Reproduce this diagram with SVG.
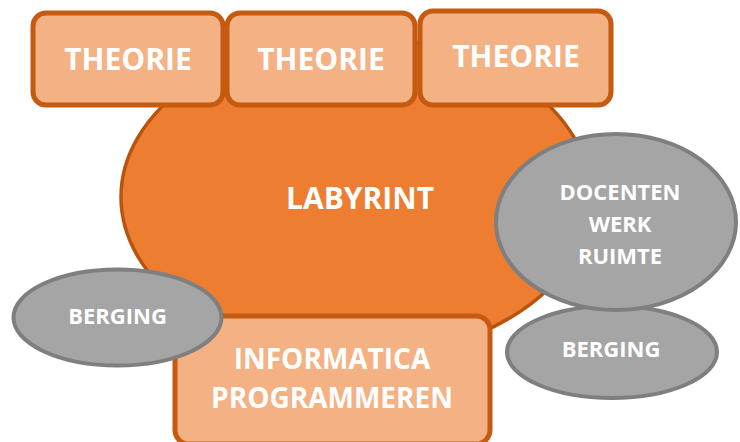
<svg xmlns="http://www.w3.org/2000/svg" width="740" height="442" viewBox="0 0 740 442">
<style>
.room{fill:#F4B183;stroke:#C55A11;stroke-width:5}
.lab{fill:#ED7D31;stroke:#B85410;stroke-width:3.5}
.gray{fill:#A5A5A5;stroke:#7F7F7F;stroke-width:4}
text{font-family:"Open Sans","Liberation Sans",sans-serif;font-weight:bold;fill:#FFFFFF;text-anchor:middle}
.big{font-size:30px}
.mid{font-size:28px}
.sm{font-size:22px}
</style>
<rect width="740" height="442" fill="#FFFFFF"/>
<g id="labyrint">
<ellipse class="lab" cx="356" cy="197" rx="235" ry="160"/>
<text class="big" x="360" y="209">LABYRINT</text>
</g>
<g id="theorie1">
<rect class="room" x="33" y="13" width="190" height="92" rx="13"/>
<text class="big" x="128" y="70">THEORIE</text>
</g>
<g id="theorie2">
<rect class="room" x="227" y="13" width="188" height="92" rx="13"/>
<text class="big" x="321" y="70">THEORIE</text>
</g>
<g id="theorie3">
<rect class="room" x="420" y="11" width="191" height="94" rx="13"/>
<text class="big" x="516" y="67">THEORIE</text>
</g>
<g id="informatica">
<rect class="room" x="175" y="316" width="315" height="128" rx="14"/>
<text class="mid" x="332" y="369">INFORMATICA</text>
<text class="mid" x="332" y="408">PROGRAMMEREN</text>
</g>
<g id="berging-links">
<ellipse class="gray" cx="117.5" cy="317.5" rx="104" ry="48"/>
<text class="sm" x="117.5" y="324">BERGING</text>
</g>
<g id="berging-rechts">
<ellipse class="gray" cx="612" cy="352" rx="105" ry="46"/>
<text class="sm" x="611" y="357">BERGING</text>
</g>
<g id="docenten">
<ellipse class="gray" cx="616" cy="222" rx="120" ry="88"/>
<text class="sm" x="620" y="200">DOCENTEN</text>
<text class="sm" x="620" y="232">WERK</text>
<text class="sm" x="620" y="264">RUIMTE</text>
</g>
</svg>
